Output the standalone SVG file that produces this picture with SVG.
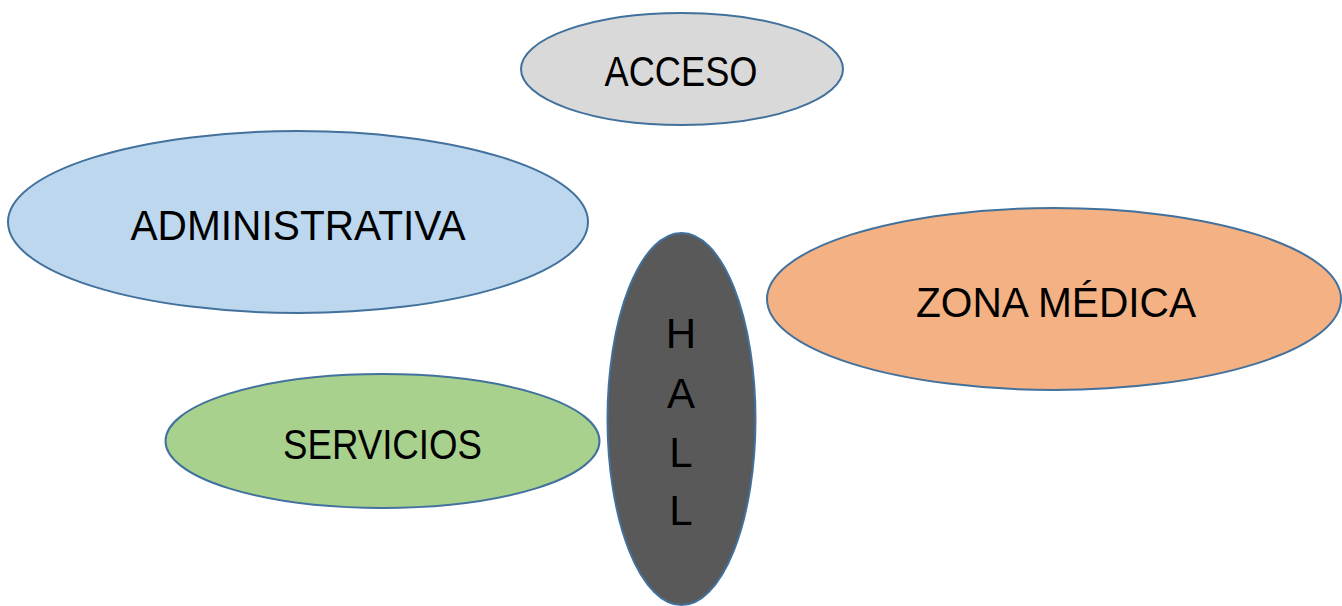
<svg xmlns="http://www.w3.org/2000/svg" width="1342" height="606" viewBox="0 0 1342 606">
<style>
.n{stroke:#41719c;stroke-width:2}
.t{font-family:"Liberation Sans",Arial,sans-serif;font-size:42px;fill:#000;text-anchor:middle}
</style>
<rect width="1342" height="606" fill="#fff"/>
<g id="connectors"></g>
<g id="acceso">
<ellipse class="n" cx="682" cy="69" rx="161" ry="56" fill="#d9d9d9"/>
<text class="t" x="681" y="86" textLength="153" lengthAdjust="spacingAndGlyphs">ACCESO</text>
</g>
<g id="administrativa">
<ellipse class="n" cx="298" cy="222" rx="290" ry="91" fill="#bdd7ee"/>
<text class="t" x="298" y="240" textLength="335" lengthAdjust="spacingAndGlyphs">ADMINISTRATIVA</text>
</g>
<g id="zona-medica">
<ellipse class="n" cx="1054" cy="299" rx="287" ry="91" fill="#f4b183"/>
<text class="t" x="1056" y="317" textLength="280" lengthAdjust="spacingAndGlyphs">ZONA MÉDICA</text>
</g>
<g id="servicios">
<ellipse class="n" cx="382.5" cy="441" rx="217" ry="67" fill="#a9d18e"/>
<text class="t" x="382.5" y="459" textLength="199" lengthAdjust="spacingAndGlyphs">SERVICIOS</text>
</g>
<g id="hall">
<ellipse class="n" cx="681.5" cy="419" rx="74" ry="186" fill="#595959"/>
<text class="t" x="681" y="348">H</text>
<text class="t" x="681" y="408">A</text>
<text class="t" x="681" y="467">L</text>
<text class="t" x="681" y="525">L</text>
</g>
</svg>
